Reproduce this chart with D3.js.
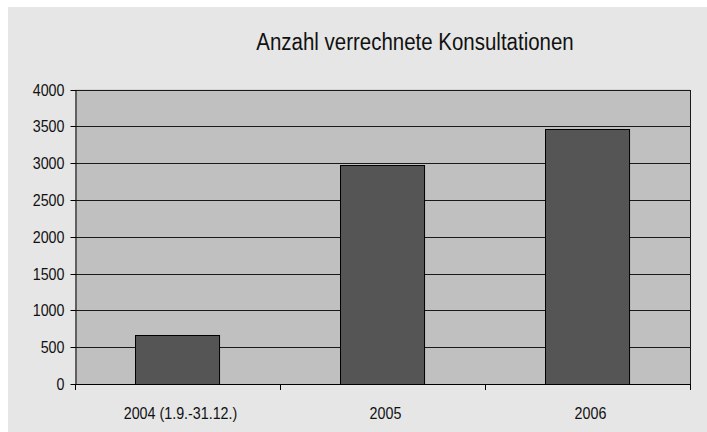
<!DOCTYPE html>
<html><head><meta charset="utf-8">
<script src="https://cdn.jsdelivr.net/npm/d3@7"></script>
<style>
html,body{margin:0;padding:0;background:#fff;}
svg{display:block;}
text{font-family:"Liberation Sans Narrow","Liberation Sans",sans-serif;font-stretch:condensed;fill:#111;}
</style></head>
<body>
<svg id="c" width="707" height="432"></svg>
<script>
const title = "Anzahl verrechnete Konsultationen";
const categories = ["2004 (1.9.-31.12.)", "2005", "2006"];
const values = [660, 2975, 3465];
const yTicks = [0, 500, 1000, 1500, 2000, 2500, 3000, 3500, 4000];

const svg = d3.select("#c");
const W = 707, H = 432;
const m = {left: 75, right: 690, top: 89.5, bottom: 384};

svg.append("rect").attr("x", 8).attr("y", 7).attr("width", W - 8).attr("height", H - 7).attr("fill", "#e6e6e6");

const x = d3.scaleBand().domain(categories).range([m.left, m.right]).paddingInner(0.59).paddingOuter(0.295);
const y = d3.scaleLinear().domain([0, 4000]).range([m.bottom, m.top]);

svg.append("rect").attr("x", m.left).attr("y", m.top).attr("width", m.right - m.left).attr("height", m.bottom - m.top)
  .attr("fill", "#c0c0c0");

svg.append("g").selectAll("line").data(yTicks.filter(d => d > 0)).join("line")
  .attr("x1", m.left).attr("x2", m.right)
  .attr("y1", d => Math.round(y(d)) + 0.5).attr("y2", d => Math.round(y(d)) + 0.5)
  .attr("stroke", "#1a1a1a").attr("stroke-width", 1);

svg.append("line").attr("x1", m.right + 0.5).attr("x2", m.right + 0.5).attr("y1", Math.round(m.top)).attr("y2", m.bottom)
  .attr("stroke", "#1a1a1a");

svg.append("g").selectAll("rect").data(values).join("rect")
  .attr("x", (d, i) => Math.round(x(categories[i])) + 0.5)
  .attr("y", d => Math.round(y(d)) + 0.5)
  .attr("width", x.bandwidth())
  .attr("height", d => Math.round(y(0)) - Math.round(y(d)))
  .attr("fill", "#555555").attr("stroke", "#000").attr("stroke-width", 1);

const yAxis = d3.axisLeft(y).tickValues(yTicks).tickFormat(d3.format("d")).tickSize(5).tickPadding(6).tickSizeOuter(0);
const gy = svg.append("g").attr("transform", `translate(${m.left + 0.5},0.5)`).call(yAxis);
gy.attr("font-family", null).attr("font-size", null);
gy.selectAll("text").style("font-size", "17px").attr("fill", "#111");
gy.selectAll("line,path").attr("stroke", "#000");
gy.selectAll(".tick").attr("transform", d => `translate(0,${Math.round(y(d))})`);

const step = x.step();
const bounds = d3.range(categories.length + 1).map(i => m.left + i * step);
const gx = svg.append("g");
gx.append("line").attr("x1", m.left).attr("x2", m.right + 1).attr("y1", m.bottom + 0.5).attr("y2", m.bottom + 0.5).attr("stroke", "#000");
gx.selectAll("line.t").data(bounds).join("line").attr("class", "t")
  .attr("x1", d => Math.round(d) + 0.5).attr("x2", d => Math.round(d) + 0.5)
  .attr("y1", m.bottom).attr("y2", m.bottom + 6).attr("stroke", "#000");
const xl = gx.selectAll("text").data(categories).join("text")
  .attr("x", d => x(d) + x.bandwidth() / 2 + 3)
  .attr("y", 419)
  .attr("text-anchor", "middle")
  .style("font-size", "17px")
  .text(d => d);

const tt = svg.append("text").attr("x", 415).attr("y", 50).attr("text-anchor", "middle")
  .style("font-size", "23px").text(title);

// emulate a narrow typeface: condense glyphs horizontally
function condense(sel, k) {
  sel.each(function() {
    const w = this.getComputedTextLength();
    d3.select(this).attr("textLength", w * k).attr("lengthAdjust", "spacingAndGlyphs");
  });
}
condense(gy.selectAll("text"), 0.84);
condense(xl, 0.84);
condense(tt, 0.89);
</script>
</body></html>
